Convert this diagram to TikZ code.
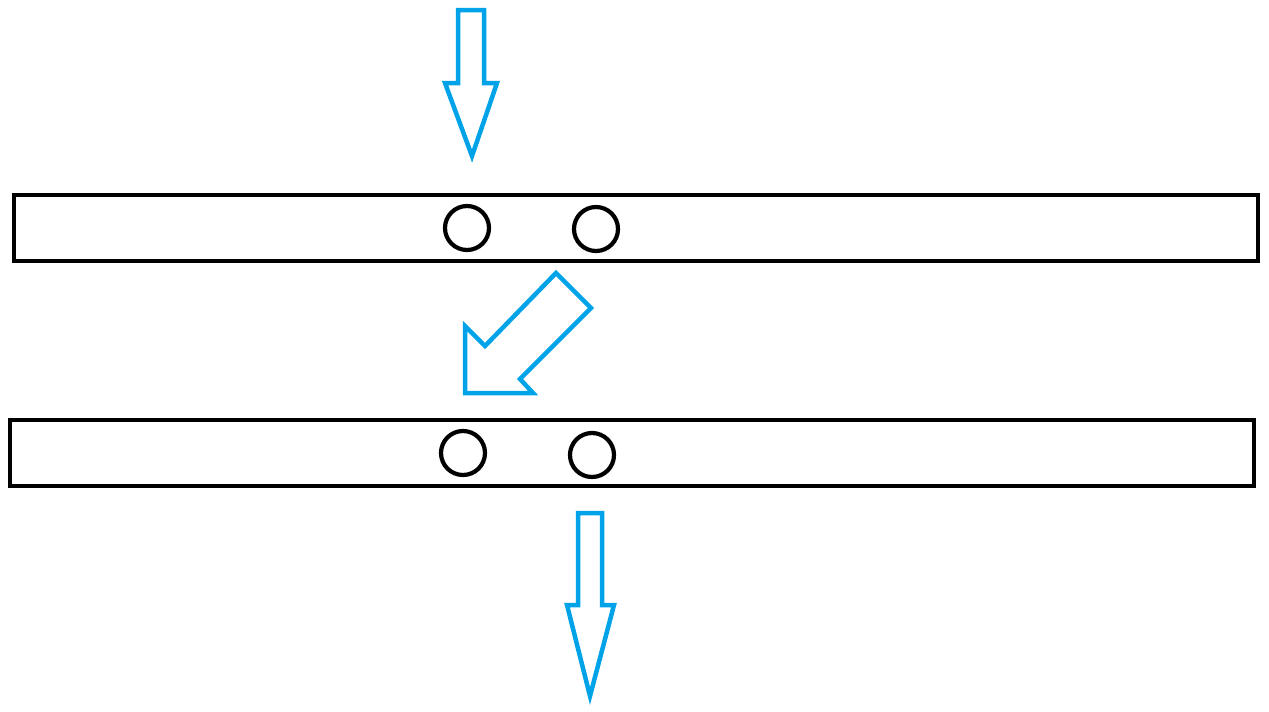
\documentclass[tikz,border=0pt]{standalone}
\definecolor{paintblue}{HTML}{00A2E8}
\tikzset{
  bar/.style={draw=black, line width=4.5pt, line join=miter},
  hole/.style={draw=black, line width=4.2pt},
  bigarrow/.style={draw=paintblue, line width=4.5pt, line join=miter}
}
\begin{document}
\begin{tikzpicture}[x=1pt,y=-1pt]
\useasboundingbox (0,0) rectangle (1269,712);
% bars
\draw[bar] (14,195) rectangle (1258,261);
\draw[bar] (10,420) rectangle (1254,486);
% holes
\draw[hole] (467,228) circle (22);
\draw[hole] (596,229) circle (22);
\draw[hole] (463,453) circle (22);
\draw[hole] (592,455) circle (22);
% top arrow
\draw[bigarrow] (458,10) -- (484,10) -- (484,83) -- (497,83) -- (472,156) -- (445,83) -- (458,83) -- cycle;
% diagonal arrow
\draw[bigarrow] (556,273) -- (591,308) -- (520,379) -- (533,393) -- (465,393) -- (465,326) -- (485,346) -- cycle;
% bottom arrow
\draw[bigarrow] (578,513) -- (602,513) -- (602,605) -- (614,605) -- (590,696) -- (567,605) -- (578,605) -- cycle;
\end{tikzpicture}
\end{document}
